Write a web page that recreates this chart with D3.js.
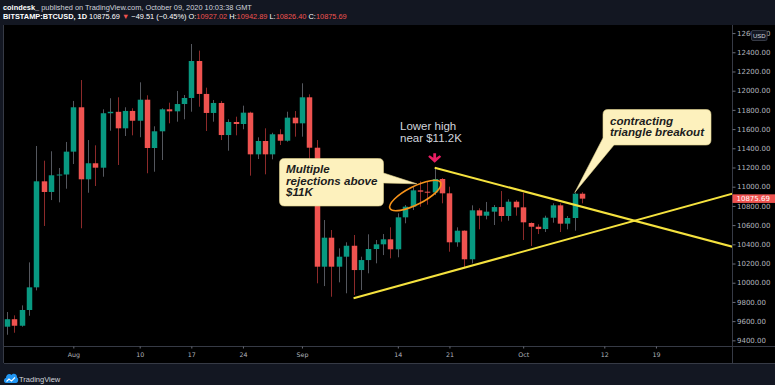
<!DOCTYPE html>
<html>
<head>
<meta charset="utf-8">
<script src="https://cdn.jsdelivr.net/npm/d3@7"></script>
<style>
  body { margin: 0; background: #131722; }
  svg { display: block; }
</style>
</head>
<body>
<div id="chart"></div>
<script>
// daily BTCUSD candles (Bitstamp)
const dates = [
  "2020-07-23", "2020-07-24", "2020-07-25", "2020-07-26", "2020-07-27", "2020-07-28", "2020-07-29", "2020-07-30", "2020-07-31",
  "2020-08-01", "2020-08-02", "2020-08-03", "2020-08-04", "2020-08-05", "2020-08-06", "2020-08-07", "2020-08-08", "2020-08-09",
  "2020-08-10", "2020-08-11", "2020-08-12", "2020-08-13", "2020-08-14", "2020-08-15", "2020-08-16", "2020-08-17", "2020-08-18",
  "2020-08-19", "2020-08-20", "2020-08-21", "2020-08-22", "2020-08-23", "2020-08-24", "2020-08-25", "2020-08-26", "2020-08-27",
  "2020-08-28", "2020-08-29", "2020-08-30", "2020-08-31", "2020-09-01", "2020-09-02", "2020-09-03", "2020-09-04", "2020-09-05",
  "2020-09-06", "2020-09-07", "2020-09-08", "2020-09-09", "2020-09-10", "2020-09-11", "2020-09-12", "2020-09-13", "2020-09-14",
  "2020-09-15", "2020-09-16", "2020-09-17", "2020-09-18", "2020-09-19", "2020-09-20", "2020-09-21", "2020-09-22", "2020-09-23",
  "2020-09-24", "2020-09-25", "2020-09-26", "2020-09-27", "2020-09-28", "2020-09-29", "2020-09-30", "2020-10-01", "2020-10-02",
  "2020-10-03", "2020-10-04", "2020-10-05", "2020-10-06", "2020-10-07", "2020-10-08", "2020-10-09"
]
const opens = [
  9542, 9620, 9552, 9716, 9952, 11056, 10945, 11119, 11127,
  11365, 11827, 11077, 11244, 11198, 11765, 11780, 11608, 11789,
  11687, 11906, 11403, 11577, 11806, 11785, 11861, 11924, 12309,
  11966, 11768, 11872, 11538, 11674, 11653, 11771, 11337, 11476,
  11337, 11546, 11479, 11719, 11660, 11931, 11406, 10167, 10469,
  10167, 10271, 10385, 10132, 10236, 10351, 10400, 10452, 10348,
  10681, 10792, 10962, 10948, 10940, 11080, 10931, 10421, 10542,
  10244, 10754, 10698, 10740, 10788, 10695, 10844, 10785, 10622,
  10583, 10559, 10677, 10806, 10615, 10674, 10927.02
]
const highs = [
  9695, 9660, 9764, 10212, 11424, 11271, 11369, 11195, 11466,
  11893, 12111, 11486, 11431, 11806, 11921, 11931, 11827, 11817,
  12087, 11952, 11629, 11817, 11875, 11997, 11955, 12486, 12417,
  12031, 11903, 11893, 11702, 11729, 11844, 11781, 11514, 11608,
  11562, 11598, 11781, 11788, 12077, 11962, 11486, 10653, 10549,
  10358, 10421, 10497, 10271, 10504, 10445, 10507, 10577, 10723,
  10809, 11000, 11056, 11052, 11198, 11090, 11000, 10577, 10546,
  10806, 10775, 10841, 10809, 10955, 10869, 10861, 10937, 10629,
  10608, 10698, 10827, 10827, 10695, 10940, 10942.89
]
const lows = [
  9458, 9479, 9542, 9656, 9920, 10591, 10861, 10837, 10979,
  11236, 10567, 10937, 11007, 11104, 11583, 11226, 11528, 11535,
  11515, 11140, 11156, 11278, 11660, 11677, 11702, 11781, 11833,
  11580, 11677, 11486, 11375, 11535, 11598, 11115, 11288, 11129,
  11285, 11434, 11469, 11521, 11521, 11278, 9994, 9965, 9854,
  10004, 9890, 9872, 9924, 10098, 10202, 10288, 10254, 10265,
  10619, 10757, 10792, 10813, 10913, 10827, 10323, 10375, 10150,
  10202, 10556, 10660, 10601, 10636, 10646, 10698, 10445, 10382,
  10507, 10528, 10625, 10528, 10556, 10542, 10826.40
]
const closes = [
  9620, 9552, 9716, 9952, 11056, 10945, 11119, 11127, 11365,
  11827, 11077, 11244, 11198, 11765, 11780, 11608, 11789, 11687,
  11906, 11403, 11577, 11806, 11785, 11861, 11924, 12309, 11966,
  11768, 11872, 11538, 11674, 11653, 11771, 11337, 11476, 11337,
  11546, 11479, 11719, 11660, 11931, 11406, 10167, 10469, 10167,
  10271, 10385, 10132, 10236, 10351, 10400, 10452, 10348, 10681,
  10792, 10962, 10948, 10940, 11080, 10931, 10421, 10542, 10244,
  10754, 10698, 10740, 10788, 10695, 10844, 10785, 10629, 10583,
  10559, 10677, 10806, 10615, 10674, 10927, 10875.69
]

const priceTicks = [9400, 9600, 9800, 10000, 10200, 10400, 10600, 10800, 11000, 11200, 11400, 11600, 11800, 12000, 12200, 12400, 12600]
const timeTicks = ["2020-08-01", "2020-08-10", "2020-08-17", "2020-08-24", "2020-09-01", "2020-09-14", "2020-09-21", "2020-10-01", "2020-10-12", "2020-10-19"]
const timeTickLabels = ["Aug", "10", "17", "24", "Sep", "14", "21", "Oct", "12", "19"]

// trend lines drawn on the chart: [date, price]
const upperTrend = [["2020-09-19", 11198], ["2020-10-30", 10362]]
const lowerTrend = [["2020-09-08", 9838], ["2020-10-30", 10940]]
// ellipse around the rejections, arrow on the lower high, callout tips
const ringCenter = ["2020-09-16T09:00", 10908]
const lowerHigh = ["2020-09-19", 11198]
const tip1 = ["2020-09-16T14:00", 11030]
const tip2 = ["2020-10-08", 10940]

const lastPrice = 10875.69

const W = 775, H = 385
const pane = {left: 4, right: 733, top: 25, bottom: 346, axis: 363}

const upColor = "#089981", downColor = "#ef5350"
const upWick = "#54575e", downWick = "#8c2a2a"
const lineColor = "#363a45"
const textColor = "#b2b5be"

const day = s => new Date(s + (s.length === 10 ? "T00:00:00Z" : ":00Z"))

const candles = dates.map((d, i) => ({
  date: day(d), o: opens[i], h: highs[i], l: lows[i], c: closes[i]
}))

const x = d3.scaleUtc()
  .domain([day("2020-07-22T14:24"), day("2020-10-29T10:48")])
  .range([pane.left, pane.right])

const y = d3.scaleLinear()
  .domain([9341, 12684])
  .range([pane.bottom, pane.top])

const svg = d3.select("#chart")
  .append("svg")
    .attr("width", W)
    .attr("height", H)
    .style("font-family", "'Liberation Sans', Arial, sans-serif")

svg.append("rect").attr("width", W).attr("height", H).attr("fill", "#131722")
svg.append("rect")
  .attr("x", pane.left).attr("y", pane.top)
  .attr("width", W - pane.left).attr("height", pane.axis - pane.top)
  .attr("fill", "#000")

svg.append("clipPath").attr("id", "pane-clip")
  .append("rect")
    .attr("x", pane.left).attr("y", pane.top)
    .attr("width", pane.right - pane.left).attr("height", pane.bottom - pane.top)

// header
const head1 = svg.append("text").attr("x", 3).attr("y", 9.5).attr("font-size", 7.4).attr("fill", "#d1d4dc")
head1.append("tspan").attr("fill", "#fff").attr("font-weight", "bold").text("coindesk_")
head1.append("tspan").text(" published on TradingView.com, October 09, 2020 10:03:38 GMT")

const head2 = svg.append("text").attr("x", 3).attr("y", 19).attr("font-size", 7.4).attr("fill", "#d1d4dc")
const parts = [
  ["BITSTAMP:BTCUSD, 1D ", "#fff", "bold"],
  ["10875.69 ", "#fff"],
  ["\u25BC", downColor],
  [" \u221249.51 (\u22120.45%) ", "#fff"],
  ["O:", "#fff"], ["10927.02", downColor],
  [" H:", "#fff"], ["10942.89", downColor],
  [" L:", "#fff"], ["10826.40", downColor],
  [" C:", "#fff"], ["10875.69", downColor]
]
parts.forEach(p => {
  head2.append("tspan").attr("fill", p[1]).attr("font-weight", p[2] || "normal").text(p[0])
})

// candles
const plot = svg.append("g").attr("clip-path", "url(#pane-clip)")
const cx = d => Math.round(x(d.date)) + 0.5
const bodyW = 5.5

plot.append("g").selectAll("line")
  .data(candles)
  .enter().append("line")
    .attr("x1", cx).attr("x2", cx)
    .attr("y1", d => y(d.h)).attr("y2", d => y(d.l))
    .attr("stroke", d => d.c >= d.o ? upWick : downWick)
    .attr("stroke-width", 1)

plot.append("g").selectAll("rect")
  .data(candles)
  .enter().append("rect")
    .attr("x", d => cx(d) - bodyW / 2)
    .attr("width", bodyW)
    .attr("y", d => y(Math.max(d.o, d.c)))
    .attr("height", d => Math.max(1, Math.abs(y(d.o) - y(d.c))))
    .attr("fill", d => d.c >= d.o ? upColor : downColor)

// trend lines
const line = d3.line().x(d => x(day(d[0]))).y(d => y(d[1]))
;[upperTrend, lowerTrend].forEach(t => {
  plot.append("path")
    .attr("d", line(t))
    .attr("fill", "none")
    .attr("stroke", "#f5e23e")
    .attr("stroke-width", 2)
})

// orange ring
plot.append("ellipse")
  .attr("transform", `translate(${x(day(ringCenter[0]))},${y(ringCenter[1])}) rotate(-27)`)
  .attr("rx", 28.5).attr("ry", 9)
  .attr("fill", "none")
  .attr("stroke", "#f7931a")
  .attr("stroke-width", 1.6)

// pink arrow above the lower high
const ax = x(day(lowerHigh[0])), ay = y(lowerHigh[1]) - 5
plot.append("path")
  .attr("d", `M${ax - 1.4},${ay - 9.5} H${ax + 1.4} V${ay - 5} L${ax + 5},${ay - 7.5} L${ax + 6.5},${ay - 6} L${ax},${ay} L${ax - 6.5},${ay - 6} L${ax - 5},${ay - 7.5} L${ax - 1.4},${ay - 5} Z`)
  .attr("fill", "#e91e63")

svg.append("text")
  .attr("font-size", 11.5)
  .attr("fill", "#d1d4dc")
  .selectAll("tspan")
  .data(["Lower high", "near $11.2K"])
  .enter().append("tspan")
    .attr("x", 400)
    .attr("y", (d, i) => 129.5 + i * 12.5)
    .text(d => d)

// callouts
const cfill = "#fdf1bd"
function callout(x0, y0, x1, y1, tail) {
  const r = 5
  let p = `M${x0 + r},${y0} H${x1 - r} Q${x1},${y0} ${x1},${y0 + r} `
  if (tail.side === "right") {
    p += `V${tail.a} L${tail.x},${tail.y} L${x1},${tail.b} V${y1 - r} Q${x1},${y1} ${x1 - r},${y1} H${x0 + r} Q${x0},${y1} ${x0},${y1 - r} `
  } else {
    p += `V${y1 - r} Q${x1},${y1} ${x1 - r},${y1} H${tail.a} L${tail.x},${tail.y} L${x0},${tail.b} `
  }
  p += `V${y0 + r} Q${x0},${y0} ${x0 + r},${y0} Z`
  return p
}

svg.append("path")
  .attr("d", callout(279.5, 158.5, 383.5, 206, {side: "right", a: 173, b: 183, x: x(day(tip1[0])), y: y(tip1[1])}))
  .attr("fill", cfill)
  .attr("stroke", "#e3d48f")
  .attr("stroke-width", 0.6)

svg.append("path")
  .attr("d", callout(603, 109.5, 711, 145, {side: "bottom", a: 614, b: 138, x: x(day(tip2[0])), y: y(tip2[1])}))
  .attr("fill", cfill)
  .attr("stroke", "#e3d48f")
  .attr("stroke-width", 0.6)

const calloutText = (lines, x0, y0) => {
  svg.append("text")
    .attr("font-size", 11.6)
    .attr("font-weight", "bold")
    .attr("font-style", "italic")
    .attr("fill", "#1c1c1c")
    .selectAll("tspan")
    .data(lines)
    .enter().append("tspan")
      .attr("x", x0)
      .attr("y", (d, i) => y0 + i * 11.5)
      .text(d => d)
}
calloutText(["Multiple", "rejections above", "$11K"], 286, 173)
calloutText(["contracting", "triangle breakout"], 610, 124.5)

// frame lines
svg.append("path")
  .attr("d", `M${pane.left - 0.5},${pane.top} V${pane.axis} M${pane.right - 0.5},${pane.top} V${pane.axis}` +
    ` M${pane.left},${pane.bottom + 0.5} H${W} M${pane.left},${pane.axis + 0.5} H${W}`)
  .attr("stroke", lineColor)
  .attr("fill", "none")

// price axis
const yAxis = svg.append("g")
  .attr("transform", `translate(${pane.right - 0.5},0)`)
  .call(d3.axisRight(y).tickValues(priceTicks).tickFormat(d3.format(".2f")).tickSize(3).tickPadding(1.5))
yAxis.select(".domain").remove()
yAxis.selectAll("line").attr("stroke", "#6a6d78")
yAxis.selectAll("text")
  .attr("font-family", "'DejaVu Sans', sans-serif")
  .attr("font-size", 7)
  .attr("fill", textColor)

// time axis
const xAxis = svg.append("g")
  .attr("transform", `translate(0,${pane.bottom + 0.5})`)
  .call(d3.axisBottom(x).tickValues(timeTicks.map(day)).tickFormat((d, i) => timeTickLabels[i]).tickSize(2).tickPadding(4.5))
xAxis.select(".domain").remove()
xAxis.selectAll("line").attr("stroke", "#6a6d78")
xAxis.selectAll("text")
  .attr("font-family", "'DejaVu Sans', sans-serif")
  .attr("font-size", 6.3)
  .attr("fill", textColor)

// last price tag
svg.append("rect")
  .attr("x", pane.right - 0.5).attr("y", y(lastPrice) - 4.3)
  .attr("width", W - pane.right + 0.5).attr("height", 8.6)
  .attr("fill", downColor)
svg.append("text")
  .attr("x", pane.right + 3.5).attr("y", y(lastPrice) + 2.5)
  .attr("font-family", "'DejaVu Sans', sans-serif")
  .attr("font-size", 7)
  .attr("fill", "#fff")
  .text(d3.format(".2f")(lastPrice))

// currency badge
svg.append("rect")
  .attr("x", 751.5).attr("y", 30.5).attr("width", 15.5).attr("height", 10)
  .attr("rx", 1.5)
  .attr("fill", "#131722").attr("stroke", lineColor)
svg.append("text")
  .attr("x", 759.3).attr("y", 37.8)
  .attr("text-anchor", "middle")
  .attr("font-size", 6)
  .attr("fill", "#d1d4dc")
  .text("USD")

// footer logo
const logo = svg.append("g").attr("transform", "translate(4,372)")
logo.append("path")
  .attr("d", "M2,11 C-0.5,11 -0.8,6.5 2,6 C2,2.5 5.5,0.8 7.5,3 C9,0.5 13.5,1.5 13,5.5 C15,6 14.5,11 12,11 Z")
  .attr("fill", "#2196f3")
logo.append("path")
  .attr("d", "M2.5,9.5 L5,7 L7.5,9 L11,5.5")
  .attr("fill", "none")
  .attr("stroke", "#fff")
  .attr("stroke-width", 1.1)
svg.append("text")
  .attr("x", 19).attr("y", 381.5)
  .attr("font-size", 7.5)
  .attr("fill", "#d1d4dc")
  .text("TradingView")
</script>
</body>
</html>
